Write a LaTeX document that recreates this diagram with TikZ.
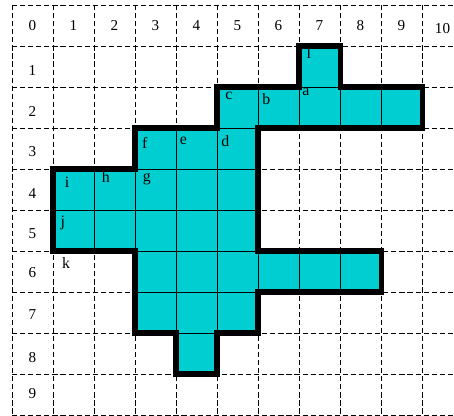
\documentclass[tikz,border=0pt]{standalone}
\usepackage{fontspec}
\setmainfont{Liberation Serif}
\definecolor{turq}{RGB}{0,206,209}

\begin{document}
\begin{tikzpicture}[
  gridline/.style = {dash pattern = on 3.6pt off 2pt, line width = .6pt},
  cellline/.style = {line width = .55pt},
  rim/.style = {line width = 3.5pt},
  num/.style = {font = \fontsize{10.5}{12}\selectfont, inner sep = 0pt},
  tag/.style = {font = \fontsize{11}{13}\selectfont, inner sep = 0pt}]

  \useasboundingbox (-.293, .122) rectangle (10.78, -10);

  %%grid
  \draw[gridline](0, 0) to (10.78, 0);
  \draw[gridline](0, -1) to (10.78, -1);
  \draw[gridline](0, -2) to (10.78, -2);
  \draw[gridline](0, -3) to (10.78, -3);
  \draw[gridline](0, -4) to (10.78, -4);
  \draw[gridline](0, -5) to (10.78, -5);
  \draw[gridline](0, -6) to (10.78, -6);
  \draw[gridline](0, -7) to (10.78, -7);
  \draw[gridline](0, -8) to (10.78, -8);
  \draw[gridline](0, -9) to (10.78, -9);
  \draw[gridline](0, -10) to (10.78, -10);

  \draw[gridline](0, 0) to (0, -10);
  \draw[gridline](1, 0) to (1, -10);
  \draw[gridline](2, 0) to (2, -10);
  \draw[gridline](3, 0) to (3, -10);
  \draw[gridline](4, 0) to (4, -10);
  \draw[gridline](5, 0) to (5, -10);
  \draw[gridline](6, 0) to (6, -10);
  \draw[gridline](7, 0) to (7, -10);
  \draw[gridline](8, 0) to (8, -10);
  \draw[gridline](9, 0) to (9, -10);
  \draw[gridline](10, 0) to (10, -10);

  %%region
  \begin{scope}
    \clip (3, -3) -- (5, -3) -- (5, -2) -- (7, -2) -- (7, -1) -- (8, -1)
      -- (8, -2) -- (10, -2) -- (10, -3) -- (6, -3) -- (6, -6) -- (9, -6)
      -- (9, -7) -- (6, -7) -- (6, -8) -- (5, -8) -- (5, -9) -- (4, -9)
      -- (4, -8) -- (3, -8) -- (3, -6) -- (1, -6) -- (1, -4) -- (3, -4) -- cycle;
    \fill[turq](0, 0) rectangle (10, -10);
    \draw[cellline](0, 0) grid (10, -10);
  \end{scope}

  %%heads
  \node[num] (c0) at (.5, -.5) {0};
  \node[num] (c1) at (1.5, -.5) {1};
  \node[num] (c2) at (2.5, -.5) {2};
  \node[num] (c3) at (3.5, -.5) {3};
  \node[num] (c4) at (4.5, -.5) {4};
  \node[num] (c5) at (5.5, -.5) {5};
  \node[num] (c6) at (6.5, -.5) {6};
  \node[num] (c7) at (7.5, -.5) {7};
  \node[num] (c8) at (8.5, -.5) {8};
  \node[num] (c9) at (9.5, -.5) {9};
  \node[num] (c10) at (10.5, -.58) {10};

  \node[num] (r1) at (.5, -1.6) {1};
  \node[num] (r2) at (.5, -2.6) {2};
  \node[num] (r3) at (.5, -3.58) {3};
  \node[num] (r4) at (.5, -4.6) {4};
  \node[num] (r5) at (.5, -5.58) {5};
  \node[num] (r6) at (.5, -6.52) {6};
  \node[num] (r7) at (.5, -7.56) {7};
  \node[num] (r8) at (.5, -8.6) {8};
  \node[num] (r9) at (.5, -9.48) {9};

  %%letters
  \node[tag] (tl) at (7.24, -1.17) {l};
  \node[tag] (ta) at (7.17, -2.12) {a};
  \node[tag] (tb) at (6.2, -2.29) {b};
  \node[tag] (tc) at (5.29, -2.22) {c};
  \node[tag] (td) at (5.2, -3.31) {d};
  \node[tag] (te) at (4.18, -3.31) {e};
  \node[tag] (tf) at (3.24, -3.37) {f};
  \node[tag] (tg) at (3.29, -4.25) {g};
  \node[tag] (th) at (2.29, -4.2) {h};
  \node[tag] (ti) at (1.34, -4.32) {i};
  \node[tag] (tj) at (1.24, -5.32) {j};
  \node[tag] (tk) at (1.32, -6.29) {k};

  %%rim
  \draw[rim](3, -3) -- (5, -3) -- (5, -2) -- (7, -2) -- (7, -1) -- (8, -1)
    -- (8, -2) -- (10, -2) -- (10, -3) -- (6, -3) -- (6, -6) -- (9, -6)
    -- (9, -7) -- (6, -7) -- (6, -8) -- (5, -8) -- (5, -9) -- (4, -9)
    -- (4, -8) -- (3, -8) -- (3, -6) -- (1, -6) -- (1, -4) -- (3, -4) -- cycle;

\end{tikzpicture}
\end{document}
